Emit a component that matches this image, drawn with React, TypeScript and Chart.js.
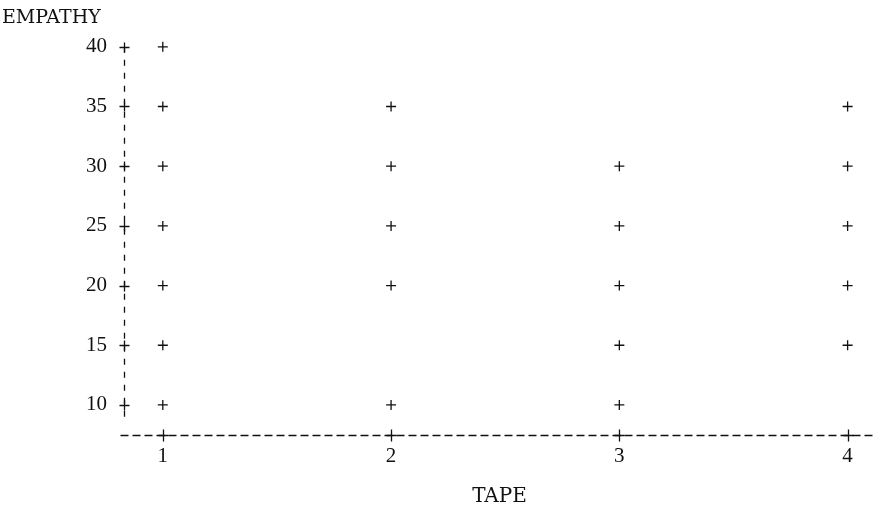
import React, { useEffect, useRef } from "react";
import { Chart, registerables } from "chart.js";

Chart.register(...registerables);

const tapes = [1, 2, 3, 4];
const yTicks = [10, 15, 20, 25, 30, 35, 40];
const tape1 = [10, 15, 20, 25, 30, 35, 40];
const tape2 = [10, 20, 25, 30, 35];
const tape3 = [10, 15, 20, 25, 30];
const tape4 = [15, 20, 25, 30, 35];
const series = [tape1, tape2, tape3, tape4];

const FONT = "'Liberation Serif', 'DejaVu Serif', serif";
const TITLE_FONT = "'DejaVu Serif', 'Liberation Serif', serif";

const axisDraw = {
  id: "axisDraw",
  afterDraw(chart: any) {
    const { ctx, chartArea, scales } = chart;
    ctx.save();
    ctx.strokeStyle = "#111";
    ctx.lineWidth = 1.3;
    const left = Math.round(chartArea.left) + 0.5;
    const bottom = Math.round(chartArea.bottom) + 0.5;
    // dashed axes
    ctx.setLineDash([6, 7]);
    ctx.beginPath();
    ctx.moveTo(left, chartArea.top);
    ctx.lineTo(left, chartArea.bottom - 12);
    ctx.stroke();
    ctx.setLineDash([8, 4]);
    ctx.beginPath();
    ctx.moveTo(left - 4, bottom);
    ctx.lineTo(chartArea.right, bottom);
    ctx.stroke();
    ctx.setLineDash([]);
    const r = 5;
    yTicks.forEach((v) => {
      const y = Math.round(scales.y.getPixelForValue(v)) + 0.5;
      ctx.beginPath();
      ctx.moveTo(left - r, y);
      ctx.lineTo(left + r, y);
      ctx.moveTo(left, y - r);
      ctx.lineTo(left, y + r);
      ctx.stroke();
    });
    tapes.forEach((v) => {
      const x = Math.round(scales.x.getPixelForValue(v)) + 0.5;
      ctx.beginPath();
      ctx.moveTo(x - r, bottom);
      ctx.lineTo(x + r, bottom);
      ctx.moveTo(x, bottom - r - 1);
      ctx.lineTo(x, bottom + r + 1);
      ctx.stroke();
    });
    ctx.restore();
  },
};

export default function App() {
  const ref = useRef<HTMLCanvasElement | null>(null);
  useEffect(() => {
    if (!ref.current) return;
    const points: { x: number; y: number }[] = [];
    series.forEach((vals, i) => vals.forEach((v) => points.push({ x: tapes[i], y: v })));
    const chart = new Chart(ref.current, {
      type: "scatter",
      data: {
        datasets: [
          {
            data: points,
            pointStyle: "cross",
            radius: 5,
            borderColor: "#111",
            backgroundColor: "#111",
            borderWidth: 1.3,
            clip: false as any,
          },
        ],
      },
      plugins: [axisDraw],
      options: {
        animation: false,
        responsive: false,
        events: [],
        layout: { autoPadding: false, padding: { left: 2, right: 0, top: 0, bottom: 19 } },
        plugins: {
          legend: { display: false },
          tooltip: { enabled: false },
          title: {
            display: true,
            text: "EMPATHY",
            align: "start",
            color: "#111",
            font: { family: TITLE_FONT, size: 19, weight: "normal" },
            padding: { top: 7, bottom: 17 },
          },
        },
        scales: {
          x: {
            type: "linear",
            min: 0.83,
            max: 4.12,
            afterBuildTicks: (s: any) => {
              s.ticks = tapes.map((v) => ({ value: v }));
            },
            afterFit: (s: any) => {
              s.paddingLeft = 0;
              s.paddingRight = 0;
            },
            grid: { display: false, drawTicks: false },
            border: { display: false },
            ticks: {
              color: "#111",
              font: { family: FONT, size: 21 },
              padding: 9,
              callback: (v: any) => String(v),
            },
            title: {
              display: true,
              text: "TAPE",
              color: "#111",
              font: { family: TITLE_FONT, size: 20 },
              padding: { top: 7, bottom: 0 },
            },
          },
          y: {
            type: "linear",
            min: 7.5,
            max: 40,
            afterBuildTicks: (s: any) => {
              s.ticks = yTicks.map((v) => ({ value: v }));
            },
            afterFit: (s: any) => {
              s.width = 122;
            },
            grid: { display: false, drawTicks: false },
            border: { display: false },
            ticks: {
              color: "#111",
              font: { family: FONT, size: 21 },
              padding: 17,
              callback: (v: any) => String(v),
            },
          },
        },
      },
    });
    return () => chart.destroy();
  }, []);
  return (
    <div style={{ position: "fixed", left: 0, top: 0, width: 875, height: 528, background: "#fff" }}>
      <canvas ref={ref} width={875} height={528} />
    </div>
  );
}
